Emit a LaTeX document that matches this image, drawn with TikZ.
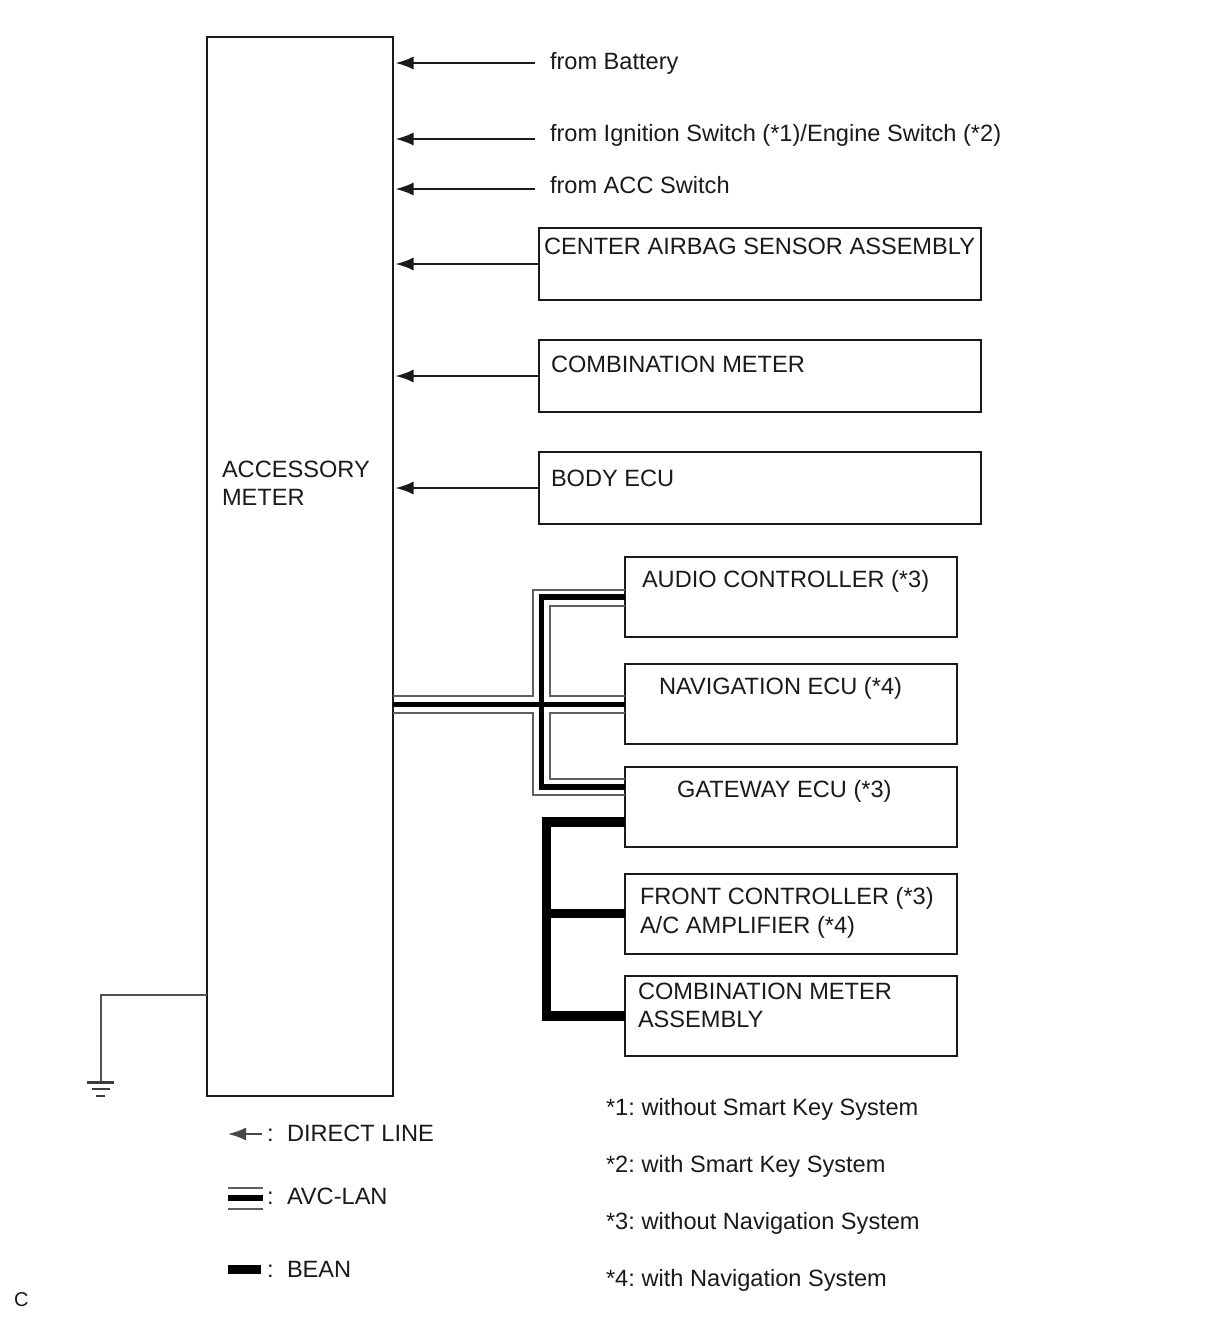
\documentclass[tikz,border=0pt]{standalone}
\usepackage{fontspec}
\setmainfont{Liberation Sans}
\usetikzlibrary{arrows.meta}
\definecolor{ink}{HTML}{1A1A1A}
\tikzset{
  x=1pt,y=-1pt,
  box/.style={draw=ink,line width=2.8pt,fill=white,inner sep=0pt,outer sep=0pt},
  txt/.style={text=ink,font=\fontsize{23.6}{28}\selectfont,inner sep=0pt,outer sep=0pt,anchor=base west,yshift=0.5pt},
  arr/.style={draw=ink,line width=2pt,-{Latex[length=18pt,width=13pt]},shorten >=2.5pt},
  thin line/.style={draw=ink!75,line width=2pt},
  avcouter/.style={draw=ink!70,line width=2pt},
  avcmid/.style={draw=black,line width=5.8pt},
  bean/.style={draw=black,line width=9.4pt},
  gnd/.style={draw=ink!85,line width=2.2pt}
}
\begin{document}
\begin{tikzpicture}
\useasboundingbox[fill=white] (0,0) rectangle (1210,1328);
% boxes
\node[box,minimum width=186pt,minimum height=1059pt] (meter) at (300,566.5) {};
\node[box,minimum width=442pt,minimum height=72pt] (airbag) at (760,264) {};
\node[box,minimum width=442pt,minimum height=72pt] (combi) at (760,376) {};
\node[box,minimum width=442pt,minimum height=72pt] (body) at (760,488) {};
\node[box,minimum width=332pt,minimum height=80pt] (audio) at (791,597) {};
\node[box,minimum width=332pt,minimum height=80pt] (nav) at (791,704) {};
\node[box,minimum width=332pt,minimum height=80pt] (gate) at (791,807) {};
\node[box,minimum width=332pt,minimum height=80pt] (front) at (791,914) {};
\node[box,minimum width=332pt,minimum height=80pt] (cmass) at (791,1016) {};
% box texts
\node[txt] (t1) at (222,478) {ACCESSORY};
\node[txt] (t2) at (222,506) {METER};
\node[txt] (t3) at (544,255) {CENTER AIRBAG SENSOR ASSEMBLY};
\node[txt] (t4) at (551,373) {COMBINATION METER};
\node[txt] (t5) at (551,487) {BODY ECU};
\node[txt] (t6) at (642,588) {AUDIO CONTROLLER (*3)};
\node[txt] (t7) at (659,695) {NAVIGATION ECU (*4)};
\node[txt] (t8) at (677,798) {GATEWAY ECU (*3)};
\node[txt] (t9) at (640,905) {FRONT CONTROLLER (*3)};
\node[txt] (t10) at (640,934) {A/C AMPLIFIER (*4)};
\node[txt] (t11) at (638,1000) {COMBINATION METER};
\node[txt] (t12) at (638,1028) {ASSEMBLY};
% free labels
\node[txt] (batt) at (550,70) {from Battery};
\node[txt] (ign) at (550,142) {from Ignition Switch (*1)/Engine Switch (*2)};
\node[txt] (acc) at (550,194) {from ACC Switch};
\coordinate (battend) at (535,63);
\coordinate (ignend) at (535,139);
\coordinate (accend) at (535,189);
% direct arrows
\draw[arr] (battend) -- (battend -| meter.east);
\draw[arr] (ignend) -- (ignend -| meter.east);
\draw[arr] (accend) -- (accend -| meter.east);
\draw[arr] (airbag.west) -- (airbag.west -| meter.east);
\draw[arr] (combi.west) -- (combi.west -| meter.east);
\draw[arr] (body.west) -- (body.west -| meter.east);
% AVC-LAN
\draw[avcouter] (meter.east |- 0,696) -- (533,696) -- (533,589.5) -- (audio.west |- 0,589.5);
\draw[avcouter] (nav.west |- 0,696) -- (549.5,696) -- (549.5,606) -- (audio.west |- 0,606);
\draw[avcouter] (meter.east |- 0,713) -- (533,713) -- (533,795) -- (gate.west |- 0,795);
\draw[avcouter] (nav.west |- 0,713) -- (549.5,713) -- (549.5,779) -- (gate.west |- 0,779);
\draw[avcmid] (audio.west |- 0,597) -- (541.5,597) -- (541.5,787) -- (gate.west |- 0,787);
\draw[avcmid] (meter.east |- 0,704.5) -- (nav.west |- 0,704.5);
% BEAN
\draw[bean] (gate.west |- 0,822) -- (546.5,822) -- (546.5,1016) -- (cmass.west);
\draw[bean] (546.5,913.5) -- (front.west |- 0,913.5);
% ground
\coordinate (g0) at (100.5,1082);
\draw[thin line] (meter.west |- 0,995) -- (100.5,995) -- (g0);
\draw[gnd,line width=3pt] (87,1082) -- (114,1082);
\draw[gnd] (92,1089) -- (110,1089);
\draw[gnd] (96,1096) -- (105,1096);
% legend
\coordinate (la) at (262,1134);
\coordinate (lb) at (228,1134);
\draw[draw=ink!80,line width=2pt,-{Latex[length=18pt,width=13pt]}] (la) -- (lb);
\draw[avcouter] (228,1188) -- (263,1188);
\draw[avcmid] (228,1198) -- (263,1198);
\draw[avcouter] (228,1208.5) -- (263,1208.5);
\draw[bean] (228,1269.5) -- (261,1269.5);
\node[txt] (l1c) at (267,1142) {:};
\node[txt] (l2c) at (267,1205) {:};
\node[txt] (l3c) at (267,1278) {:};
\node[txt] (l1) at (287,1142) {DIRECT LINE};
\node[txt] (l2) at (287,1205) {AVC-LAN};
\node[txt] (l3) at (287,1278) {BEAN};
% notes
\node[txt] (n1) at (606,1116) {*1:\hspace{-2pt} without Smart Key System};
\node[txt] (n2) at (606,1173) {*2:\hspace{-2pt} with Smart Key System};
\node[txt] (n3) at (606,1230) {*3:\hspace{-2pt} without Navigation System};
\node[txt] (n4) at (606,1287) {*4:\hspace{-2pt} with Navigation System};
\node[txt,font=\fontsize{20}{24}\selectfont] (c) at (14,1307) {C};
\end{tikzpicture}
\end{document}
